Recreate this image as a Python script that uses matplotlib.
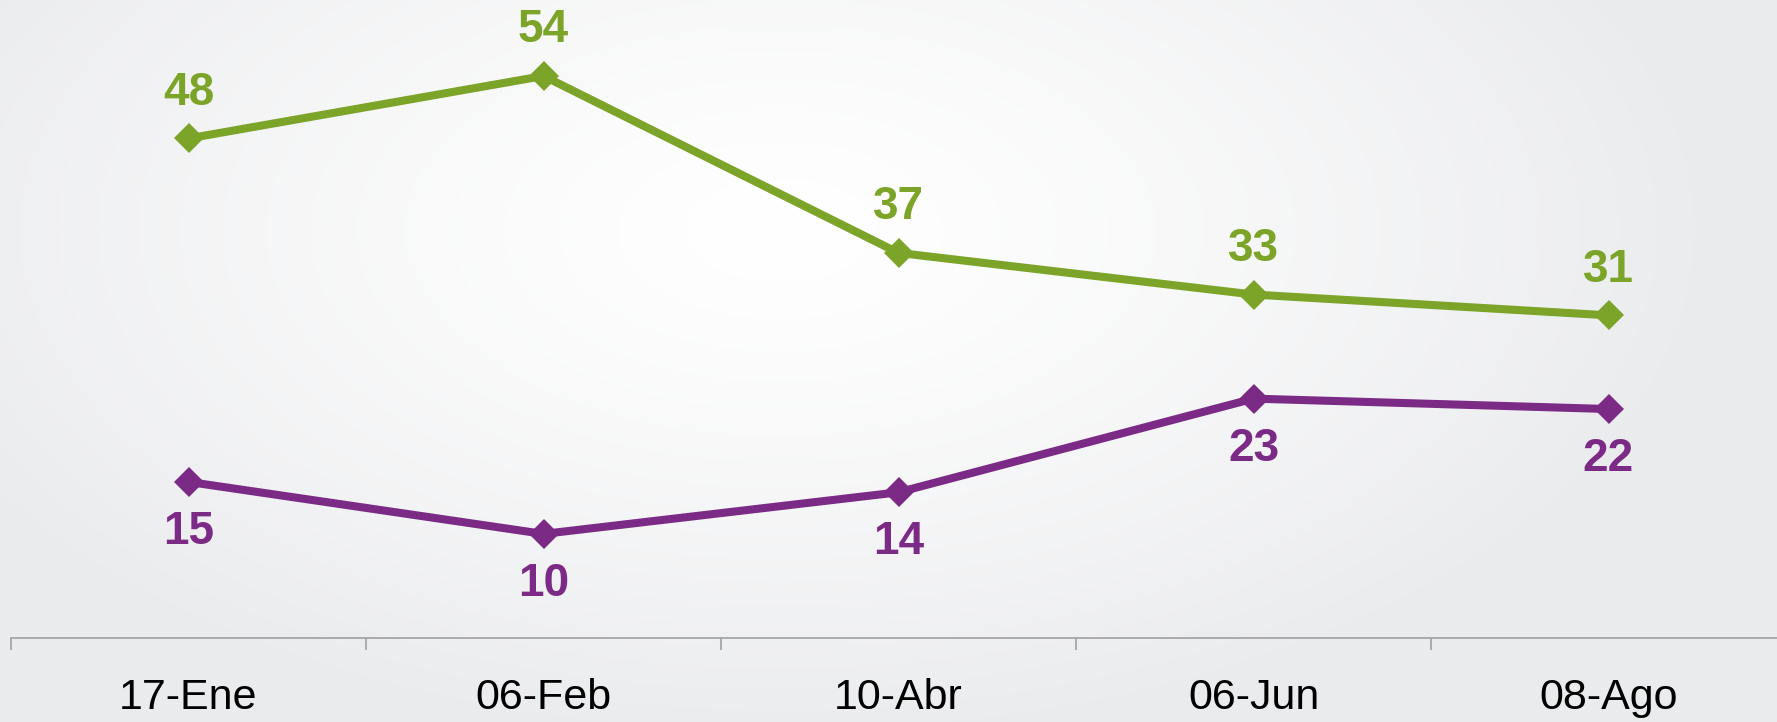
import numpy as np
import matplotlib.pyplot as plt

# data
fechas = ['17-Ene', '06-Feb', '10-Abr', '06-Jun', '08-Ago']
verde = [48, 54, 37, 33, 31]
morado = [15, 10, 14, 23, 22]

color_verde = '#7BA428'
color_morado = '#7B2A86'

plt.rcParams['font.family'] = ['Liberation Sans', 'DejaVu Sans']

fig = plt.figure(figsize=(17.77, 7.22), dpi=100)

# radial gradient background
bg = fig.add_axes([0, 0, 1, 1])
bg.set_axis_off()
W, H = 1777, 722
xx, yy = np.meshgrid(np.arange(W), np.arange(H))
r = np.sqrt(((xx - 780) / 950.0) ** 2 + ((yy - 230) / 520.0) ** 2)
t = np.clip(r, 0, 1) ** 1.3
edge = np.array([234, 235, 237]) / 255.0
img = (1 - t)[..., None] * np.ones(3) + t[..., None] * edge
bg.imshow(img, aspect='auto', extent=[0, 1, 0, 1], origin='upper')
bg.set_xlim(0, 1)
bg.set_ylim(0, 1)

ax = fig.add_axes([11 / W, (H - 638) / H, (1786 - 11) / W, 638 / H])
ax.patch.set_alpha(0)
x = np.arange(len(fechas))

for serie, col, off in [(verde, color_verde, 33), (morado, color_morado, -36)]:
    ax.plot(x, serie, color=col, lw=5.8, marker='D', ms=15, mew=0,
            solid_joinstyle='miter', clip_on=False)
    for xi, v in zip(x, serie):
        ax.annotate(str(v), (xi, v), xytext=(0, off), textcoords='offset points',
                    ha='center', va='center', fontsize=33, fontweight='bold',
                    color=col)

ax.set_xlim(-0.5, len(fechas) - 0.5)
ax.set_ylim(0, 61.3)

for s in ['top', 'right', 'left']:
    ax.spines[s].set_visible(False)
ax.spines['bottom'].set_color('#A0A0A0')
ax.spines['bottom'].set_linewidth(1.2)
ax.set_yticks([])

ax.set_xticks(np.arange(-0.5, len(fechas), 1.0))
ax.set_xticklabels([])
ax.tick_params(axis='x', which='major', length=8.6, width=1.2, color='#A0A0A0')
ax.set_xticks(x, minor=True)
ax.set_xticklabels(fechas, minor=True)
ax.tick_params(axis='x', which='minor', length=0, pad=29, labelsize=31,
               labelcolor='black')

fig.savefig('out.png', dpi=100)
